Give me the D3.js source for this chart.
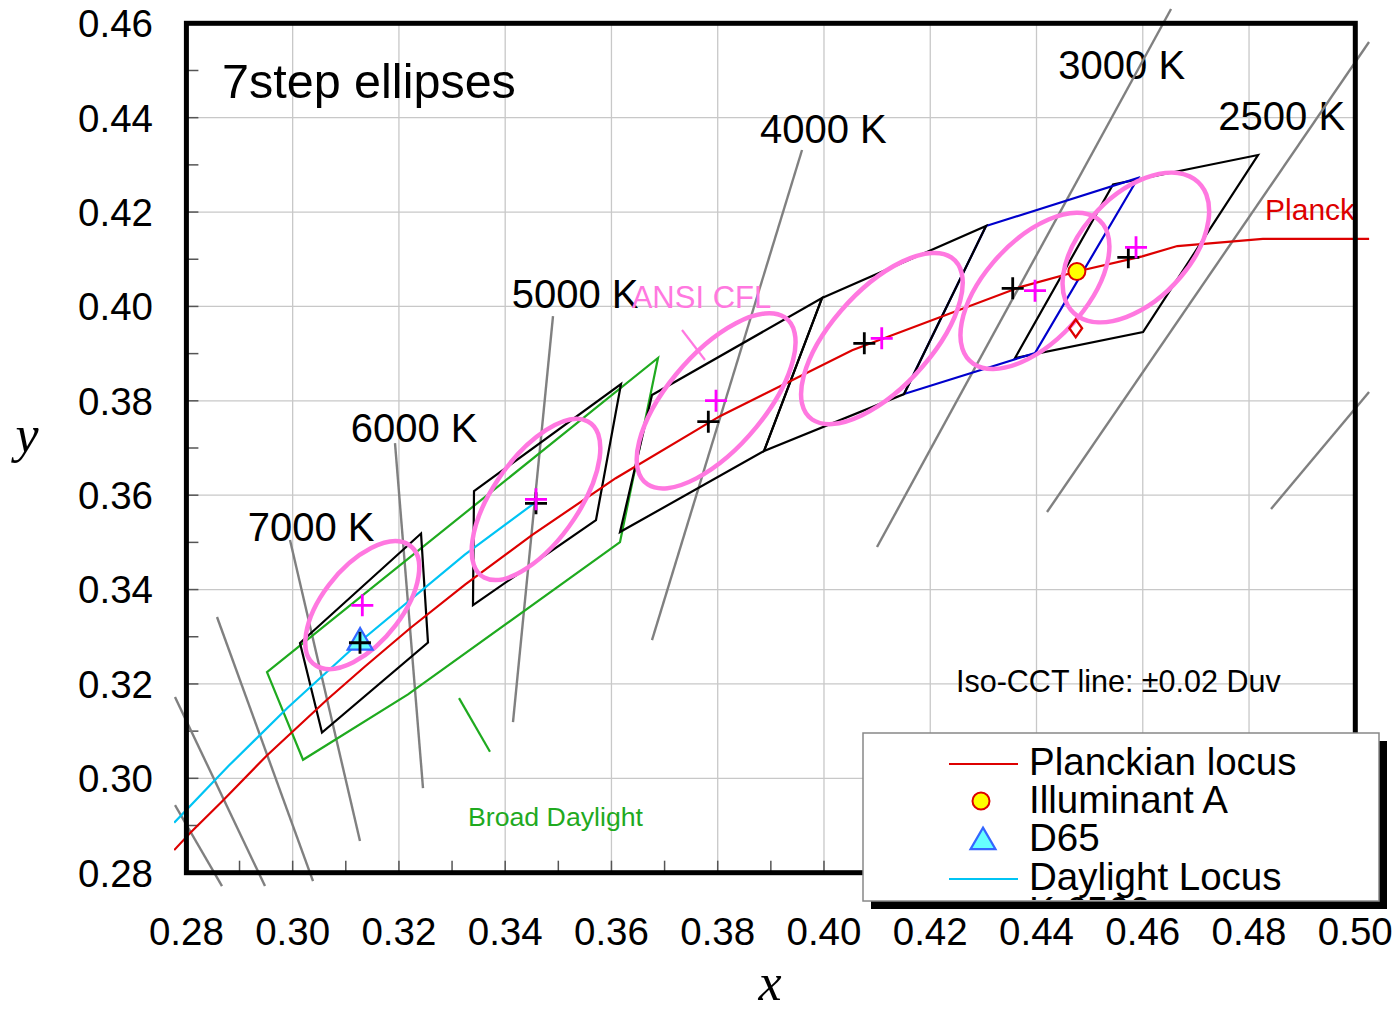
<!DOCTYPE html>
<html>
<head>
<meta charset="utf-8">
<script src="https://cdn.jsdelivr.net/npm/d3@7"></script>
<style>
  body { margin: 0; background: #fff; }
  svg text { font-family: "Liberation Sans", Arial, sans-serif; }
</style>
</head>
<body>
<div id="chart"></div>
<script>
// ---- data ----
var xTicks = [0.28, 0.30, 0.32, 0.34, 0.36, 0.38, 0.40, 0.42, 0.44, 0.46, 0.48, 0.50];
var yTicks = [0.28, 0.30, 0.32, 0.34, 0.36, 0.38, 0.40, 0.42, 0.44, 0.46];

// Planckian locus (x, y)
var planckLocus = [[0.2777, 0.2848], [0.2807, 0.2884], [0.2867, 0.2951], [0.2951, 0.3048],
  [0.3064, 0.3166], [0.3135, 0.3236], [0.3221, 0.3318], [0.3325, 0.3411], [0.3451, 0.3516],
  [0.3608, 0.3636], [0.3805, 0.3768], [0.4053, 0.3907], [0.4369, 0.4041], [0.4476, 0.4074],
  [0.4599, 0.4106], [0.4665, 0.4128], [0.4826, 0.4143], [0.5026, 0.4143]];

// daylight locus, D50 down to ~D100
var daylightLocus = [[0.2777, 0.2906], [0.2880, 0.3027], [0.2990, 0.3149], [0.3127, 0.3290],
  [0.3324, 0.3474], [0.3457, 0.3585]];

// iso-CCT lines (+-0.02 Duv)
var isoLines = [
  [[0.28576, 0.33418], [0.30383, 0.27822]],
  [[0.27785, 0.31722], [0.29479, 0.27717]],
  [[0.27785, 0.29433], [0.28670, 0.27717]],
  [[0.29950, 0.35049], [0.31267, 0.28670]],   // 7000 K
  [[0.31926, 0.37105], [0.32453, 0.29794]],   // 6000 K
  [[0.34900, 0.39797], [0.34147, 0.31192]],   // 5000 K
  [[0.39587, 0.43315], [0.36763, 0.32930]],   // 4000 K
  [[0.46532, 0.46303], [0.40998, 0.34901]],   // 3000 K
  [[0.50259, 0.45604], [0.44198, 0.35643]],   // 2500 K
  [[0.48414, 0.35706], [0.50259, 0.38186]]
];
var isoLabels = ["7000 K", "6000 K", "5000 K", "4000 K", "3000 K", "2500 K"];
var isoLabelPos = [[0.29154, 0.35035], [0.31092, 0.37133], [0.34123, 0.39960],
  [0.38796, 0.43457], [0.44411, 0.44820], [0.47422, 0.43739]];

// ANSI quadrangles
var quadsBlack = [
  [[0.43596, 0.38907], [0.45440, 0.42584], [0.48169, 0.43209], [0.46005, 0.39458]],  // 2700 K
  [[0.30138, 0.32867], [0.32416, 0.35187], [0.32547, 0.32877], [0.30552, 0.30970]],  // 6500 K
  [[0.33413, 0.36088], [0.36180, 0.38356], [0.35709, 0.35473], [0.33394, 0.33672]],  // 5000 K
  [[0.36763, 0.38122], [0.39963, 0.40178], [0.38871, 0.36936], [0.36161, 0.35219]],  // 4000 K
  [[0.39963, 0.40178], [0.43050, 0.41704], [0.41507, 0.38144], [0.38871, 0.36936]]   // 3500 K
];
var quadBlue = [[0.43050, 0.41704], [0.45911, 0.42721], [0.43972, 0.39013], [0.41507, 0.38144]]; // 3000 K

// broad daylight region
var broadDaylight = [[0.29517, 0.32252], [0.36876, 0.38907], [0.36161, 0.35007],
  [0.32171, 0.31779], [0.30195, 0.30393]];
var broadDaylightTick = [[0.33131, 0.31700], [0.33714, 0.30563]];

// 7-step ellipses: centre x, centre y, semi-major, semi-minor, angle (deg)
var ellipses = [
  [0.3131, 0.3367, 0.0155, 0.0076, 56],
  [0.3458, 0.3591, 0.0192, 0.0083, 59.4],
  [0.3797, 0.3800, 0.0219, 0.0094, 54],
  [0.4109, 0.3932, 0.0216, 0.0097, 52.6],
  [0.4397, 0.4033, 0.0193, 0.0099, 53.2],
  [0.4587, 0.4125, 0.0182, 0.0105, 53]
];
var ansiCentres = [[0.31311, 0.33666], [0.3458, 0.35912], [0.37968, 0.38002],
  [0.41087, 0.39324], [0.43972, 0.40333], [0.45873, 0.41253]];
var nominalCentres = [[0.31267, 0.32873], [0.3458, 0.35827], [0.37823, 0.37557],
  [0.40759, 0.39218], [0.43552, 0.40384], [0.45728, 0.41041]];
var ansiPointer = [[0.37328, 0.39500], [0.37761, 0.38864]];

var illuminantA = [0.4476, 0.4074];
var d65 = [0.3127, 0.3290];
var diamondPt = [0.44738, 0.39536];

var legendLabels = ["Planckian locus", "Illuminant A", "D65", "Daylight Locus", "K 6500"];

// ---- layout ----
var W = 1399, H = 1014;
var svg = d3.select("#chart").append("svg")
  .attr("width", W).attr("height", H);

var x = d3.scaleLinear().domain([0.28, 0.50]).range([186.4, 1355.3]);
var y = d3.scaleLinear().domain([0.28, 0.46]).range([872.7, 23.3]);

var line = d3.line().x(function(d) { return x(d[0]); }).y(function(d) { return y(d[1]); });
var poly = function(d) { return line(d) + "Z"; };

// grid
var grid = svg.append("g");
grid.selectAll(".gx").data(xTicks.slice(1, -1)).join("line")
  .attr("x1", d => x(d)).attr("x2", d => x(d))
  .attr("y1", y(0.28)).attr("y2", y(0.46))
  .attr("stroke", "#c8c8c8").attr("stroke-width", 1.3);
grid.selectAll(".gy").data(yTicks.slice(1, -1)).join("line")
  .attr("y1", d => y(d)).attr("y2", d => y(d))
  .attr("x1", x(0.28)).attr("x2", x(0.50))
  .attr("stroke", "#c8c8c8").attr("stroke-width", 1.3);

// minor ticks every 0.01, pointing inward
var xMinor = d3.range(29, 50).map(d => d / 100);
var yMinor = d3.range(29, 46).map(d => d / 100);
svg.append("g").selectAll("line").data(xMinor).join("line")
  .attr("x1", d => x(d)).attr("x2", d => x(d))
  .attr("y1", y(0.28)).attr("y2", y(0.28) - 12)
  .attr("stroke", "#555").attr("stroke-width", 1.5);
svg.append("g").selectAll("line").data(yMinor).join("line")
  .attr("y1", d => y(d)).attr("y2", d => y(d))
  .attr("x1", x(0.28)).attr("x2", x(0.28) + 12)
  .attr("stroke", "#555").attr("stroke-width", 1.5);

// chart-area clip (lines run past the plot frame)
svg.append("clipPath").attr("id", "area").append("rect")
  .attr("x", 174).attr("y", 8).attr("width", 1196).attr("height", 879);
var plot = svg.append("g").attr("clip-path", "url(#area)");

// labels of iso-CCT lines (lines drawn over them)
plot.selectAll(".isolab").data(isoLabels).join("text")
  .attr("x", (d, i) => x(isoLabelPos[i][0]))
  .attr("y", (d, i) => y(isoLabelPos[i][1]))
  .style("font-size", "40px").attr("fill", "#000")
  .text(d => d);

plot.selectAll(".iso").data(isoLines).join("path")
  .attr("d", line).attr("fill", "none")
  .attr("stroke", "#808080").attr("stroke-width", 2.4);

// broad daylight
plot.append("path").attr("d", poly(broadDaylight))
  .attr("fill", "none").attr("stroke", "#1faa1f").attr("stroke-width", 2.2);
plot.append("path").attr("d", line(broadDaylightTick))
  .attr("fill", "none").attr("stroke", "#1faa1f").attr("stroke-width", 2.2);

// quadrangles
plot.append("path").attr("d", poly(quadsBlack[0]))
  .attr("fill", "none").attr("stroke", "#000").attr("stroke-width", 2.2);
plot.append("path").attr("d", poly(quadBlue))
  .attr("fill", "none").attr("stroke", "#0000cc").attr("stroke-width", 2.2);
plot.selectAll(".quad").data(quadsBlack.slice(1)).join("path")
  .attr("d", poly).attr("fill", "none")
  .attr("stroke", "#000").attr("stroke-width", 2.2);

// loci
plot.append("path").attr("d", line(daylightLocus))
  .attr("fill", "none").attr("stroke", "#00c4f4").attr("stroke-width", 2.2);
plot.append("path").attr("d", line(planckLocus))
  .attr("fill", "none").attr("stroke", "#dd0000").attr("stroke-width", 2.2);

// ellipses, defined in chromaticity units
var kx = x(1) - x(0), ky = y(1) - y(0);
plot.selectAll(".ell").data(ellipses).join("ellipse")
  .attr("transform", d => "translate(" + x(d[0]) + "," + y(d[1]) + ") scale(" + kx + "," + ky + ") rotate(" + d[4] + ")")
  .attr("rx", d => d[2]).attr("ry", d => d[3])
  .attr("fill", "none").attr("stroke", "#ff78e0").attr("stroke-width", 4.5)
  .attr("vector-effect", "non-scaling-stroke");

plot.append("path").attr("d", line(ansiPointer))
  .attr("stroke", "#ff78e0").attr("stroke-width", 2.2);

// plus markers
function plus(g, pts, color) {
  g.selectAll(null).data(pts).join("path")
    .attr("d", d => "M" + (x(d[0]) - 11) + "," + y(d[1]) + "h22M" + x(d[0]) + "," + (y(d[1]) - 11) + "v22")
    .attr("stroke", color).attr("stroke-width", 2.8);
}

// D65 triangle
var tri = d3.symbol().type(d3.symbolTriangle).size(270);
plot.append("path").attr("d", tri())
  .attr("transform", "translate(" + x(d65[0]) + "," + (y(d65[1]) + 1) + ")")
  .attr("fill", "#66ffff").attr("stroke", "#3366ff").attr("stroke-width", 2.2);

plus(plot, nominalCentres, "#000");
plus(plot, ansiCentres, "#ff00ff");

// illuminant A and diamond
plot.append("circle").attr("cx", x(illuminantA[0])).attr("cy", y(illuminantA[1])).attr("r", 8.5)
  .attr("fill", "#ffff00").attr("stroke", "#dd0000").attr("stroke-width", 2);
plot.append("path").attr("d", d3.symbol().type(d3.symbolDiamond).size(90)())
  .attr("transform", "translate(" + x(diamondPt[0]) + "," + y(diamondPt[1]) + ") scale(1.25,1)")
  .attr("fill", "none").attr("stroke", "#dd0000").attr("stroke-width", 2);

// annotations
svg.append("text").attr("x", x(0.2867)).attr("y", y(0.44417))
  .style("font-size", "48.5px").text("7step ellipses");
svg.append("text").attr("x", x(0.36381)).attr("y", y(0.39960))
  .style("font-size", "31px").attr("fill", "#ff78e0").text("ANSI CFL");
svg.append("text").attr("x", x(0.48301)).attr("y", y(0.41831))
  .style("font-size", "30px").attr("fill", "#dd0000").text("Planck");
svg.append("text").attr("x", x(0.42485)).attr("y", y(0.31828))
  .style("font-size", "30.5px").text("Iso-CCT line: \u00b10.02 Duv");
svg.append("text").attr("x", x(0.3330)).attr("y", y(0.28988))
  .style("font-size", "26.7px").attr("fill", "#1faa1f").text("Broad Daylight");

// frame
svg.append("rect").attr("x", x(0.28)).attr("y", y(0.46))
  .attr("width", x(0.50) - x(0.28)).attr("height", y(0.28) - y(0.46))
  .attr("fill", "none").attr("stroke", "#000").attr("stroke-width", 5);

// tick labels
svg.append("g").selectAll("text").data(xTicks).join("text")
  .attr("x", d => x(d)).attr("y", 945).attr("text-anchor", "middle")
  .style("font-size", "38.5px").text(d => d.toFixed(2));
svg.append("g").selectAll("text").data(yTicks).join("text")
  .attr("x", 153).attr("y", d => y(d)).attr("dy", "0.36em").attr("text-anchor", "end")
  .style("font-size", "38.5px").text(d => d.toFixed(2));

// axis titles
svg.append("text").attr("x", 770).attr("y", 1000).attr("text-anchor", "middle")
  .style("font-family", "'Liberation Serif', serif").style("font-style", "italic")
  .style("font-size", "52px").text("x");
svg.append("text").attr("x", 27).attr("y", 452).attr("text-anchor", "middle")
  .style("font-family", "'Liberation Serif', serif").style("font-style", "italic")
  .style("font-size", "52px").text("y");

// legend (last entry is cut by the box, as in the original)
var lg = svg.append("g");
lg.append("rect").attr("x", 871).attr("y", 741).attr("width", 516).attr("height", 168).attr("fill", "#000");
lg.append("rect").attr("x", 863).attr("y", 733).attr("width", 516).attr("height", 168)
  .attr("fill", "#fff").attr("stroke", "#888").attr("stroke-width", 1.5);
svg.append("clipPath").attr("id", "lgclip").append("rect")
  .attr("x", 863).attr("y", 733).attr("width", 516).attr("height", 167);
var lgIn = lg.append("g").attr("clip-path", "url(#lgclip)");
lgIn.selectAll("text").data(legendLabels).join("text")
  .attr("x", 1029).attr("y", (d, i) => i < 4 ? 775 + i * 38.2 : 924)
  .style("font-size", "38.5px").text(d => d);
lgIn.append("line").attr("x1", 949).attr("x2", 1018).attr("y1", 764).attr("y2", 764)
  .attr("stroke", "#dd0000").attr("stroke-width", 2.2);
lgIn.append("circle").attr("cx", 981).attr("cy", 801).attr("r", 8.5)
  .attr("fill", "#ffff00").attr("stroke", "#dd0000").attr("stroke-width", 2);
lgIn.append("path").attr("d", tri()).attr("transform", "translate(983,842)")
  .attr("fill", "#66ffff").attr("stroke", "#3366ff").attr("stroke-width", 2.2);
lgIn.append("line").attr("x1", 949).attr("x2", 1018).attr("y1", 879).attr("y2", 879)
  .attr("stroke", "#00c4f4").attr("stroke-width", 2.2);
</script>
</body>
</html>
